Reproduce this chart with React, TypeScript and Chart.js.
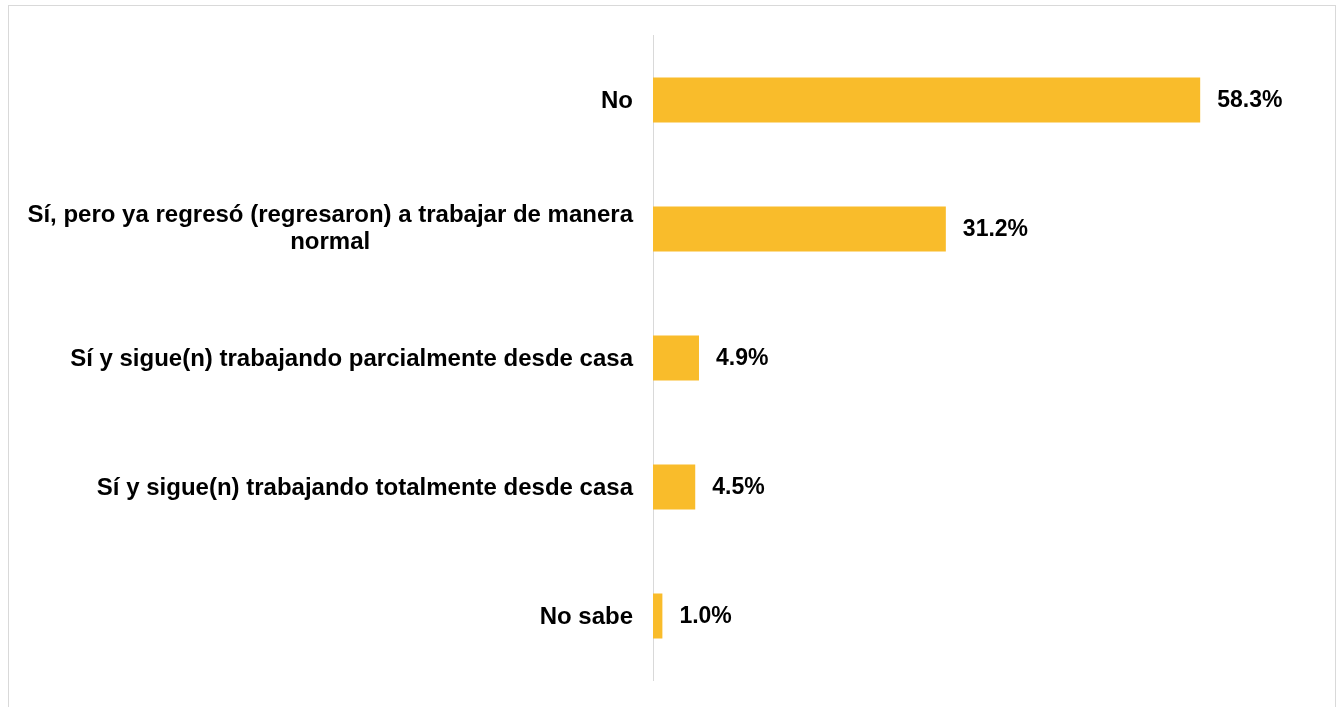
import React, { useEffect, useRef } from "react";
import { Chart, registerables } from "chart.js";

Chart.register(...registerables);

const categories: string[][] = [
  ["No"],
  ["Sí, pero ya regresó (regresaron) a trabajar de manera", "normal"],
  ["Sí y sigue(n) trabajando parcialmente desde casa"],
  ["Sí y sigue(n) trabajando totalmente desde casa"],
  ["No sabe"],
];
const values: number[] = [58.3, 31.2, 4.9, 4.5, 1.0];
const valueLabels: string[] = ["58.3%", "31.2%", "4.9%", "4.5%", "1.0%"];

const CAT_FONT = "bold 24px Arial, 'Liberation Sans', sans-serif";
const VAL_FONT = "bold 23px Arial, 'Liberation Sans', sans-serif";

const labelPlugin = {
  id: "customLabels",
  afterDatasetsDraw(chart: any) {
    const ctx = chart.ctx;
    const meta = chart.getDatasetMeta(0);
    const area = chart.chartArea;
    ctx.save();
    ctx.fillStyle = "#000000";
    ctx.textBaseline = "middle";
    meta.data.forEach((bar: any, i: number) => {
      // value label
      ctx.font = VAL_FONT;
      ctx.textAlign = "left";
      ctx.fillText(valueLabels[i], bar.x + 17, bar.y + 1);
      // category label
      ctx.font = CAT_FONT;
      const lines = categories[i];
      const widths = lines.map((l) => ctx.measureText(l).width);
      const w = Math.max(...widths);
      const right = area.left - 20;
      const lh = 27;
      const off = lines.length > 1 ? 0 : 1;
      const startY = bar.y + off - ((lines.length - 1) * lh) / 2;
      ctx.textAlign = "center";
      lines.forEach((l, j) => {
        ctx.fillText(l, right - w / 2, startY + j * lh);
      });
    });
    ctx.restore();
  },
};

export default function App() {
  const ref = useRef<HTMLCanvasElement | null>(null);
  useEffect(() => {
    if (!ref.current) return;
    const chart = new Chart(ref.current, {
      type: "bar",
      data: {
        labels: categories.map((c) => c.join(" ")),
        datasets: [
          {
            data: values,
            backgroundColor: "#F9BC2B",
            borderWidth: 0,
            categoryPercentage: 1,
            barPercentage: 0.35,
          },
        ],
      },
      options: {
        indexAxis: "y",
        animation: false,
        responsive: false,
        maintainAspectRatio: false,
        layout: { padding: { left: 644, right: 25, top: 29.5, bottom: 33.5 } },
        plugins: {
          legend: { display: false },
          tooltip: { enabled: false },
          title: { display: false },
        },
        scales: {
          x: { display: false, min: 0, max: 70 },
          y: {
            display: true,
            ticks: { display: false },
            grid: { display: false, drawTicks: false },
            border: { display: true, color: "#d9d9d9", width: 1 },
          },
        },
      },
      plugins: [labelPlugin],
    });
    return () => chart.destroy();
  }, []);
  return (
    <div
      style={{
        position: "fixed",
        left: 8,
        top: 5,
        width: 1328,
        height: 710,
        boxSizing: "border-box",
        border: "1px solid #d9d9d9",
        background: "#ffffff",
      }}
    >
      <canvas ref={ref} width={1326} height={708} style={{ display: "block", width: 1326, height: 708 }} />
    </div>
  );
}
